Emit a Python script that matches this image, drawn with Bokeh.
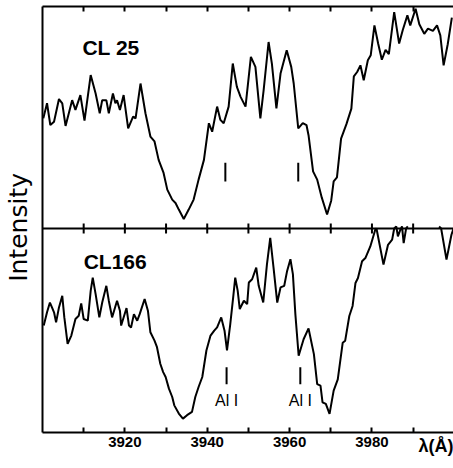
import numpy as np
from bokeh.plotting import figure
from bokeh.models import Range1d, LinearAxis, FixedTicker, Span, Label
from bokeh.embed import file_html
from bokeh.resources import INLINE

# ---------------- data ----------------
# CL 25 spectrum (upper panel): wavelength (Angstrom) and relative intensity
TOP_WL = [3900.2, 3901.1, 3901.9, 3902.8, 3904.0, 3904.8, 3905.6, 3907.2, 3908.0, 3909.2,
          3910.2, 3911.7, 3912.9, 3913.9, 3914.5, 3915.5, 3916.1, 3917.1, 3917.7, 3918.1,
          3918.8, 3919.7, 3920.8, 3922.0, 3922.6, 3923.8, 3925.0, 3926.2, 3927.2, 3928.2,
          3929.4, 3930.3, 3931.5, 3932.3, 3933.1, 3934.3, 3935.5, 3936.7, 3937.9, 3939.2,
          3940.4, 3941.2, 3942.4, 3943.2, 3944.0, 3945.2, 3946.2, 3947.2, 3948.1, 3949.3,
          3950.6, 3951.7, 3952.9, 3953.7, 3954.9, 3955.7, 3956.8, 3957.8, 3959.3, 3960.4,
          3961.0, 3962.1, 3963.2, 3964.1, 3964.6, 3965.7, 3966.7, 3967.8, 3969.1, 3970.1,
          3970.7, 3971.5, 3972.5, 3973.8, 3975.0, 3975.6, 3976.4, 3977.2, 3978.0, 3979.0,
          3979.7, 3980.6, 3981.5, 3982.4, 3983.3, 3984.1, 3985.4, 3986.6, 3987.5, 3988.6,
          3989.3, 3990.6, 3991.5, 3992.7, 3993.6, 3994.8, 3995.8, 3996.6, 3997.4, 3998.4,
          3999.4]
TOP_I = [0.496, 0.564, 0.466, 0.481, 0.583, 0.564, 0.462, 0.578, 0.534, 0.601,
         0.486, 0.691, 0.608, 0.519, 0.578, 0.578, 0.519, 0.608, 0.564, 0.578,
         0.534, 0.601, 0.451, 0.504, 0.496, 0.653, 0.519, 0.414, 0.392, 0.309,
         0.250, 0.175, 0.130, 0.115, 0.085, 0.043, 0.085, 0.130, 0.220, 0.309,
         0.474, 0.436, 0.549, 0.489, 0.474, 0.549, 0.743, 0.638, 0.593, 0.549,
         0.773, 0.728, 0.496, 0.623, 0.840, 0.743, 0.541, 0.698, 0.803, 0.728,
         0.653, 0.451, 0.475, 0.466, 0.420, 0.257, 0.220, 0.140, 0.063, 0.125,
         0.212, 0.230, 0.405, 0.470, 0.540, 0.685, 0.705, 0.735, 0.668, 0.758,
         0.780, 0.915, 0.833, 0.760, 0.805, 0.785, 0.975, 0.833, 0.895, 0.960,
         0.915, 0.990, 0.920, 0.877, 0.900, 0.890, 0.915, 0.870, 0.735, 0.830,
         0.950]

# CL166 spectrum (lower panel); NaN where the trace runs off the top of its panel
BOT_WL = [3900.3, 3901.1, 3901.8, 3902.3, 3902.8, 3903.3, 3904.0, 3904.8, 3905.3, 3906.1,
          3907.0, 3908.0, 3908.8, 3909.4, 3910.0, 3911.0, 3911.7, 3912.2, 3912.9, 3913.8,
          3914.5, 3915.5, 3916.1, 3916.9, 3918.1, 3918.8, 3919.1, 3920.4, 3921.0, 3921.5,
          3922.2, 3923.0, 3923.6, 3924.8, 3925.6, 3926.2, 3927.2, 3927.8, 3928.6, 3929.3,
          3929.9, 3930.7, 3931.5, 3932.0, 3933.1, 3934.1, 3935.1, 3936.3, 3937.1, 3937.9,
          3938.8, 3939.8, 3940.8, 3941.7, 3942.4, 3943.4, 3944.2, 3944.8, 3945.6, 3946.3,
          3946.8, 3947.4, 3947.9, 3948.9, 3949.7, 3950.1, 3950.9, 3951.9, 3952.5, 3953.6,
          3954.5, 3955.3, 3956.1, 3957.0, 3957.8, 3958.7, 3959.4, 3960.2, 3960.8, 3961.4,
          3962.2, 3963.4, 3964.6, 3965.9, 3966.7, 3967.5, 3968.0, 3968.8, 3969.7, 3970.7,
          3971.7, 3972.9, 3973.5, 3974.5, 3975.3, 3976.0, 3976.6, 3977.6, 3978.4, 3979.6,
          3980.8, 3981.1, 3982.8, 3983.9, 3984.9, 3985.4, 3985.9, 3986.3, 3986.9, 3987.3,
          3987.7, 3988.3, 3988.7, 3989.0, 3996.0, 3996.3, 3996.8, 3998.1, 3999.3, 3999.8]
BOT_I = [0.524, 0.589, 0.637, 0.613, 0.589, 0.540, 0.613, 0.670, 0.564, 0.434,
         0.475, 0.556, 0.572, 0.633, 0.556, 0.548, 0.694, 0.759, 0.678, 0.564,
         0.637, 0.719, 0.646, 0.564, 0.646, 0.597, 0.524, 0.610, 0.524, 0.515,
         0.580, 0.548, 0.580, 0.654, 0.597, 0.491, 0.450, 0.418, 0.337, 0.296,
         0.272, 0.215, 0.174, 0.133, 0.093, 0.068, 0.085, 0.101, 0.174, 0.223,
         0.272, 0.402, 0.475, 0.499, 0.515, 0.564, 0.499, 0.402, 0.532, 0.662,
         0.759, 0.694, 0.605, 0.646, 0.629, 0.735, 0.751, 0.808, 0.719, 0.637,
         0.824, 0.954, 0.808, 0.637, 0.711, 0.719, 0.792, 0.849, 0.776, 0.580,
         0.376, 0.457, 0.510, 0.384, 0.237, 0.230, 0.148, 0.140, 0.091, 0.205,
         0.260, 0.440, 0.450, 0.571, 0.620, 0.733, 0.757, 0.839, 0.855, 0.912,
         0.994, 1.000, 0.823, 0.920, 0.945, 1.000, 1.010, 0.961, 0.994, 1.010,
         0.928, 1.000, 1.010, float("nan"), float("nan"), 1.010, 1.000, 0.847, 0.969, 1.000]

AL_LINES_TOP = [3944.4, 3962.1]     # marker positions, upper panel
AL_LINES_BOT = [3944.7, 3962.6]     # marker positions, lower panel
AL_LABEL = "Al I"
X_LABELED_TICKS = [3920, 3940, 3960, 3980]
X_MINOR_TICKS = [3910, 3930, 3950, 3970, 3990]
X_ALL_TICKS = [3910, 3920, 3930, 3940, 3950, 3960, 3970, 3980, 3990]
X_START, X_END = 3900, 3999.8

# ---------------- layout ----------------
W, H = 453, 468
TOP_H, BOT_H = 223, 205          # pixel heights of the two panels
FRAME_H = TOP_H + BOT_H
FONT = "Liberation Sans"

p = figure(width=W, height=H, output_backend="svg", toolbar_location=None,
           x_range=Range1d(X_START, X_END), y_range=Range1d(0, FRAME_H / BOT_H),
           x_axis_location=None, y_axis_location=None,
           min_border_left=42, min_border_right=0, min_border_top=6, min_border_bottom=34,
           outline_line_color=None, background_fill_color="white", border_fill_color="white")
p.extra_y_ranges = {"top": Range1d(-BOT_H / TOP_H, 1.0)}
p.grid.grid_line_color = None

xb = LinearAxis(ticker=FixedTicker(ticks=X_LABELED_TICKS, minor_ticks=X_MINOR_TICKS),
                major_tick_in=5, major_tick_out=0, minor_tick_in=5, minor_tick_out=0,
                axis_line_width=2, major_tick_line_width=2, minor_tick_line_width=2,
                major_label_text_font=FONT, major_label_text_font_size="15px",
                major_label_text_font_style="bold", major_label_standoff=4,
                major_label_text_color="black",
                axis_label="λ(Å)", axis_label_text_font=FONT,
                axis_label_text_font_size="18px", axis_label_text_font_style="bold",
                axis_label_text_color="black", axis_label_standoff=-4,
                axis_label_align="end", axis_label_orientation=0.0001)
p.add_layout(xb, "below")

# top border: ticks only (as minor ticks, so no tick labels are made)
xt = LinearAxis(ticker=FixedTicker(ticks=[], minor_ticks=X_ALL_TICKS),
                major_tick_in=0, major_tick_out=0, minor_tick_in=5, minor_tick_out=0,
                axis_line_width=2, minor_tick_line_width=2)
p.add_layout(xt, "above")

yl = LinearAxis(ticker=FixedTicker(ticks=[]), major_tick_in=0, major_tick_out=0,
                minor_tick_in=0, minor_tick_out=0, axis_line_width=2,
                axis_label="Intensity\u00a0\u00a0", axis_label_text_font="DejaVu Sans",
                axis_label_text_font_size="25px", axis_label_text_font_style="normal",
                axis_label_text_color="black", axis_label_standoff=10)
p.add_layout(yl, "left")

# separator between the panels with its ticks
p.add_layout(Span(location=1.0, dimension="width", line_color="black", line_width=2))
p.scatter(x=X_ALL_TICKS, y=[1.0] * len(X_ALL_TICKS), marker="dash", angle=np.pi / 2,
          size=10, line_color="black", line_width=2)

# spectra
p.line(TOP_WL, TOP_I, y_range_name="top", line_color="black", line_width=2)
p.line(BOT_WL, BOT_I, line_color="black", line_width=2)

# Al I line markers
p.segment(x0=AL_LINES_TOP, y0=[0.211] * 2, x1=AL_LINES_TOP, y1=[0.296] * 2,
          y_range_name="top", line_color="black", line_width=2)
p.segment(x0=AL_LINES_BOT, y0=[0.236] * 2, x1=AL_LINES_BOT, y1=[0.320] * 2,
          line_color="black", line_width=2)
for wl in AL_LINES_BOT:
    p.add_layout(Label(x=wl, y=0.156, text=AL_LABEL, text_align="center",
                       text_baseline="middle", text_font=FONT, text_font_size="16px",
                       text_color="black"))

p.add_layout(Label(x=3909.7, y=0.816, y_range_name="top", text="CL 25", text_align="left",
                   text_baseline="alphabetic", text_font=FONT, text_font_size="21px",
                   text_font_style="bold", text_color="black"))
p.add_layout(Label(x=3910.0, y=0.839, text="CL166", text_align="left",
                   text_baseline="alphabetic", text_font=FONT, text_font_size="21px",
                   text_font_style="bold", text_color="black"))

open("out.html", "w").write(file_html(p, INLINE))
